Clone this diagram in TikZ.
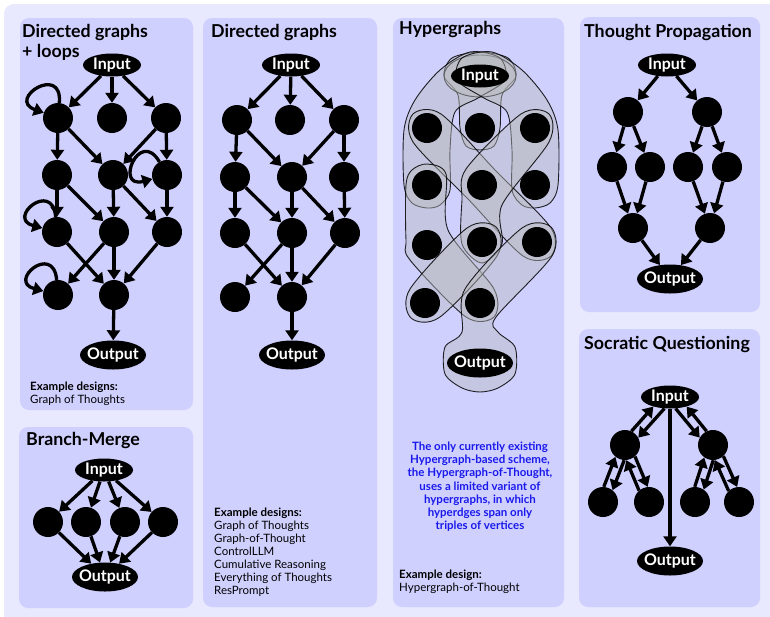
\documentclass[tikz,border=0pt]{standalone}
\usepackage{fontspec}
\setmainfont{Lato}
\usetikzlibrary{arrows.meta,shapes.geometric}

\definecolor{outerbg}{RGB}{232,232,255}
\definecolor{panelbg}{RGB}{208,208,255}
\definecolor{hyperfill}{RGB}{185,188,190}
\definecolor{noteblue}{RGB}{25,25,235}

\tikzset{
  panel/.style={fill=panelbg, rounded corners=9pt},
  vert/.style={circle, fill=black, minimum size=30pt, inner sep=0pt},
  inbox/.style={ellipse, fill=black, text=white, font=\bfseries\fontsize{16}{16}\selectfont, minimum width=58pt, minimum height=23pt, inner xsep=-20pt, inner ysep=-10pt},
  outbox/.style={inbox, minimum width=66pt, minimum height=29pt},
  arr/.style={line width=3.3pt, -{Triangle[length=10pt,width=13pt]}},
  selfloop/.style={arr, looseness=5.5},
  title/.style={anchor=base west, font=\bfseries\fontsize{17.8}{20}\selectfont, inner sep=0pt, align=left},
  designs/.style={anchor=north west, font=\fontsize{11.5}{13}\selectfont, inner sep=0pt, align=left},
  hyper/.style={fill=hyperfill, fill opacity=0.45, draw=black, draw opacity=0.85, line width=0.9pt},
}

\begin{document}
\begin{tikzpicture}[x=1pt,y=-1pt]
    \useasboundingbox (0,0) rectangle (770,616);
    \clip (0,0) rectangle (770,616);
    \fill[outerbg, rounded corners=10pt] (4,4) rectangle (790,636);

    % panels
    \fill[panel] (20,18) rectangle (193,410);
    \fill[panel] (19,427) rectangle (193,608);
    \fill[panel] (203,18) rectangle (377,607);
    \fill[panel] (393,18) rectangle (564,607);
    \fill[panel] (580,17) rectangle (760,312);
    \fill[panel] (579,329) rectangle (760,607);

    % titles
    \node[title, anchor=north west] (t1) at (22,24) {Directed graphs\\+ loops};
    \node[title] (t2) at (211,37) {Directed graphs};
    \node[title] (t3) at (399,34) {Hypergraphs};
    \node[title] (t4) at (584,37) {Thought Propagation};
    \node[title] (t5) at (584,349) {Socratic Questioning};
    \node[title] (t6) at (26,445) {Branch-Merge};

    % directed graphs + loops
    \node[inbox] (Lin) at (112,65) {Input};
    \node[vert] (L11) at (58,118) {};
    \node[vert] (L12) at (112,118) {};
    \node[vert] (L13) at (166,118) {};
    \node[vert] (L21) at (57,175) {};
    \node[vert] (L22) at (113,175) {};
    \node[vert] (L23) at (167,175) {};
    \node[vert] (L31) at (57,232) {};
    \node[vert] (L32) at (114,232) {};
    \node[vert] (L33) at (167,232) {};
    \node[vert] (L41) at (58,295) {};
    \node[vert] (L42) at (114,295) {};
    \node[outbox] (Lout) at (113,355) {Output};

    % directed graphs
    \node[inbox] (Din) at (291,65) {Input};
    \node[vert] (D11) at (237,120) {};
    \node[vert] (D12) at (290,120) {};
    \node[vert] (D13) at (344,120) {};
    \node[vert] (D21) at (235,177) {};
    \node[vert] (D22) at (292,177) {};
    \node[vert] (D23) at (344,177) {};
    \node[vert] (D31) at (235,233) {};
    \node[vert] (D32) at (292,233) {};
    \node[vert] (D33) at (345,233) {};
    \node[vert] (D41) at (235,297) {};
    \node[vert] (D42) at (292,297) {};
    \node[outbox] (Dout) at (292,355) {Output};

    \foreach \p in {L,D}
        \foreach \a/\b in {in/11,in/12,in/13,11/21,11/22,13/22,13/23,21/31,21/32,22/32,22/33,23/33,31/42,32/41,32/42,33/42,42/out}
            \draw[arr] (\p\a) -- (\p\b);

    \draw[selfloop] (L11) to[out=85,in=160] (L11);
    \draw[selfloop] (L23) to[out=120,in=195] (L23);
    \draw[selfloop] (L31) to[out=95,in=165] (L31);
    \draw[selfloop] (L41) to[out=95,in=165] (L41);

    % hyperedges
    \draw[hyper] plot [smooth cycle] coordinates {(480,52) (508,58) (516,76) (502,95) (500,128) (494,146) (480,150) (466,146) (460,128) (458,95) (444,76) (452,58)};
    \draw[hyper] (480,76) ellipse [x radius=36, y radius=21];
    \draw[hyper] plot [smooth cycle] coordinates {(470,52) (500,58) (505,80) (478,98) (455,112) (450,150) (450,190) (440,205) (427,208) (412,203) (404,185) (404,130) (415,100) (440,70)};
    \draw[hyper] plot [smooth cycle] coordinates {(492,52) (462,58) (457,80) (484,98) (507,112) (512,150) (512,190) (522,205) (535,208) (550,203) (558,185) (558,130) (547,100) (522,70)};
    \draw[hyper] plot [smooth cycle] coordinates {(441,114) (496,171) (551,228) (551,256) (523,256) (468,199) (413,142) (413,114)};
    \draw[hyper] plot [smooth cycle] coordinates {(549,114) (521,114) (466,169) (462,200) (462,244) (482,263) (502,244) (502,205) (549,142)};
    \draw[hyper] plot [smooth cycle] coordinates {(427,164) (446,174) (448,230) (494,289) (494,317) (466,317) (410,260) (406,240) (406,185) (412,170)};
    \draw[hyper] plot [smooth cycle] coordinates {(496,227) (497,256) (440,317) (411,318) (410,289) (467,228)};
    \draw[hyper] plot [smooth cycle] coordinates {(551,227) (552,256) (496,317) (498,332) (515,347) (515,374) (498,388) (480,392) (462,388) (445,374) (445,347) (462,332) (465,289) (522,228)};

    % hypergraph vertices
    \node[inbox] (Hin) at (480,76) {Input};
    \node[vert] (H11) at (427,128) {};
    \node[vert] (H12) at (480,128) {};
    \node[vert] (H13) at (535,128) {};
    \node[vert] (H21) at (427,185) {};
    \node[vert] (H22) at (482,185) {};
    \node[vert] (H23) at (535,185) {};
    \node[vert] (H31) at (427,245) {};
    \node[vert] (H32) at (482,242) {};
    \node[vert] (H33) at (537,242) {};
    \node[vert] (H41) at (425,303) {};
    \node[vert] (H42) at (480,303) {};
    \node[outbox] (Hout) at (480,363) {Output};

    % thought propagation
    \node[inbox] (Tin) at (667,65) {Input};
    \node[vert] (T11) at (628,112) {};
    \node[vert] (T12) at (707,112) {};
    \node[vert] (T21) at (612,167) {};
    \node[vert] (T22) at (650,167) {};
    \node[vert] (T23) at (688,167) {};
    \node[vert] (T24) at (727,167) {};
    \node[vert] (T31) at (633,228) {};
    \node[vert] (T32) at (710,228) {};
    \node[outbox] (Tout) at (670,279) {Output};
    \foreach \a/\b in {in/11,in/12,11/21,11/22,12/23,12/24,21/31,22/31,23/32,24/32,31/out,32/out}
        \draw[arr] (T\a) -- (T\b);

    % socratic questioning
    \node[inbox] (Sin) at (670,397) {Input};
    \node[vert] (S1) at (625,445) {};
    \node[vert] (S2) at (713,445) {};
    \node[vert] (S11) at (603,502) {};
    \node[vert] (S12) at (649,502) {};
    \node[vert] (S21) at (695,502) {};
    \node[vert] (S22) at (739,502) {};
    \node[outbox] (Sout) at (670,561) {Output};
    \draw[arr] (S11.87) -- (S1.231);
    \draw[arr] (S1.267) -- (S11.51);
    \draw[arr] (S12.131) -- (S1.275);
    \draw[arr] (S1.311) -- (S12.95);
    \draw[arr] (S21.91) -- (S2.235);
    \draw[arr] (S2.271) -- (S21.55);
    \draw[arr] (S22.133) -- (S2.277);
    \draw[arr] (S2.313) -- (S22.97);
    \draw[arr] (S1.65) -- (Sin.210);
    \draw[arr] (Sin.244) -- (S1.29);
    \draw[arr] (S2.115) -- (Sin.330);
    \draw[arr] (Sin.296) -- (S2.151);
    \draw[arr] (Sin) -- (Sout);

    % branch-merge
    \node[inbox] (Bin) at (104,470) {Input};
    \node[vert] (B1) at (48,522) {};
    \node[vert] (B2) at (86,522) {};
    \node[vert] (B3) at (125,522) {};
    \node[vert] (B4) at (163,522) {};
    \node[outbox] (Bout) at (105,577) {Output};
    \foreach \i in {1,...,4} {
        \draw[arr] (Bin) -- (B\i);
        \draw[arr] (B\i) -- (Bout);
    }

    % example designs
    \node[designs] (x1) at (30,382) {\textbf{Example designs:}\\Graph of Thoughts};
    \node[designs] (x2) at (214,508) {\textbf{Example designs:}\\Graph of Thoughts\\Graph-of-Thought\\ControlLLM\\Cumulative Reasoning\\Everything of Thoughts\\ResPrompt};
    \node[designs] (x3) at (399,570) {\textbf{Example design:}\\Hypergraph-of-Thought};
    \node[designs, anchor=north, align=center, text=noteblue, font=\bfseries\fontsize{11.5}{13.1}\selectfont] (note) at (480,442)
        {The only currently existing\\Hypergraph-based scheme,\\the Hypergraph-of-Thought,\\uses a limited variant of\\hypergraphs, in which\\hyperdges span only\\triples of vertices};
\end{tikzpicture}
\end{document}
